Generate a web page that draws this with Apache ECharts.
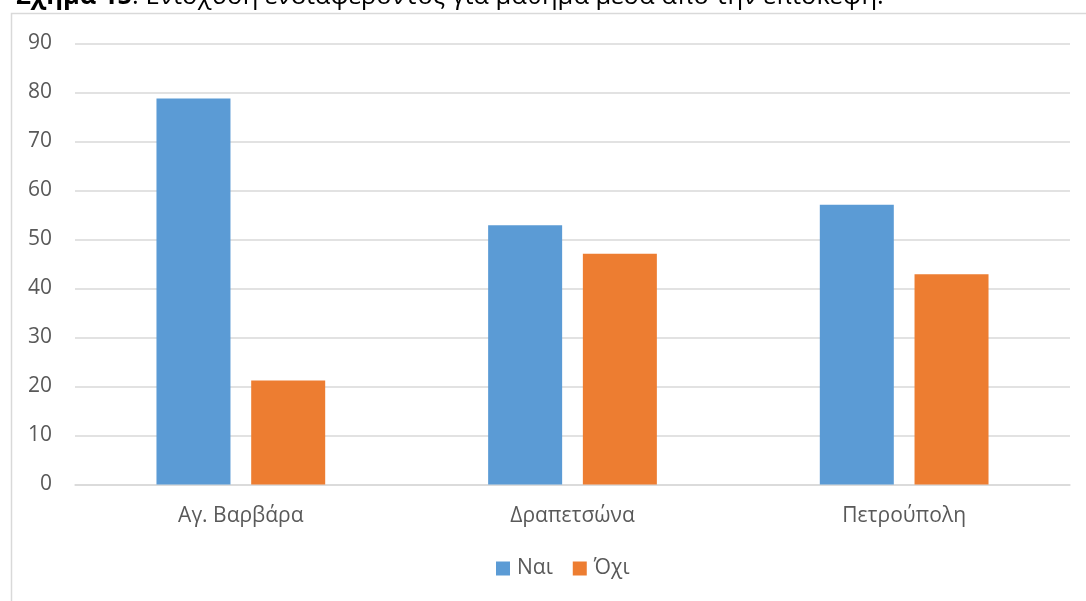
<!DOCTYPE html>
<html>
<head>
<meta charset="utf-8">
<script src="https://cdn.jsdelivr.net/npm/echarts@6/dist/echarts.min.js"></script>
<style>
  html, body { margin: 0; padding: 0; background: #ffffff; }
  #chart { width: 1086px; height: 601px; }
</style>
</head>
<body>
<div id="chart"></div>
<script>
// Area labels on the category axis
const categories = ['Αγ. Βαρβάρα', 'Δραπετσώνα', 'Πετρούπολη'];
// Percent answering "Yes" / "No"
const yesValues = [78.8, 52.9, 57.1];
const noValues = [21.2, 47.1, 42.9];
const seriesNames = ['Ναι', 'Όχι'];
const yTicks = { min: 0, max: 90, step: 10 };

const FONT = '"Open Sans", "Noto Sans", sans-serif';
const LABEL_COLOR = '#595959';
const GRID_COLOR = '#d9d9d9';

const chart = echarts.init(document.getElementById('chart'), null, { renderer: 'canvas' });

chart.setOption({
  backgroundColor: '#ffffff',
  animation: false,
  textStyle: { fontFamily: FONT },
  graphic: [
    {
      // frame around the chart area
      type: 'rect',
      z: -10,
      shape: { x: 11.5, y: 13.5, width: 1200, height: 700 },
      style: { fill: '#ffffff', stroke: GRID_COLOR, lineWidth: 1.5 }
    },
    {
      type: 'text',
      x: 16,
      y: 10,
      style: {
        text: '{b|Σχήμα 15}: Ενίσχυση ενδιαφέροντος για μάθημα μέσα από την επίσκεψη.',
        fontFamily: FONT,
        fontSize: 25.5,
        fill: '#000000',
        verticalAlign: 'bottom',
        rich: {
          b: { fontWeight: 'bold', fontSize: 25.5, fontFamily: FONT, fill: '#000000' }
        }
      }
    }
  ],
  legend: {
    data: seriesNames,
    left: 491,
    top: 553,
    itemWidth: 14,
    itemHeight: 14,
    itemGap: 20,
    icon: 'rect',
    textStyle: { fontFamily: FONT, fontSize: 21, color: LABEL_COLOR, padding: [0, 0, 0, 2] }
  },
  grid: {
    left: 75,
    right: 16,
    top: 43.5,
    bottom: 116.5,
    containLabel: false
  },
  xAxis: {
    type: 'category',
    data: categories,
    axisLine: { show: true, lineStyle: { color: GRID_COLOR, width: 1.5 } },
    axisTick: { show: false },
    axisLabel: { fontFamily: FONT, fontSize: 21, color: LABEL_COLOR, margin: 21 }
  },
  yAxis: {
    type: 'value',
    min: yTicks.min,
    max: yTicks.max,
    interval: yTicks.step,
    axisLine: { show: false },
    axisTick: { show: false },
    splitLine: { lineStyle: { color: GRID_COLOR, width: 1.5 } },
    axisLabel: { fontFamily: FONT, fontSize: 21, color: LABEL_COLOR, margin: 23 }
  },
  series: [
    {
      name: seriesNames[0],
      type: 'bar',
      data: yesValues,
      barWidth: 74,
      barGap: '28%',
      itemStyle: { color: '#5B9BD5' }
    },
    {
      name: seriesNames[1],
      type: 'bar',
      data: noValues,
      barWidth: 74,
      barGap: '28%',
      itemStyle: { color: '#ED7D31' }
    }
  ]
});
</script>
</body>
</html>
